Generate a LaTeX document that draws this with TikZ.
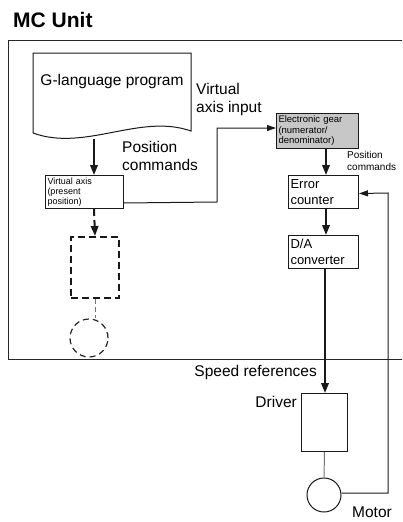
\documentclass[tikz,border=0pt]{standalone}
\usepackage{fontspec}
\setmainfont{Liberation Sans}
\usetikzlibrary{arrows.meta, positioning, calc}
\tikzset{
    block/.style={draw=black!90, line width=1pt, anchor=north west, align=left, inner sep=2pt},
    bigtext/.style={font=\fontsize{15.5}{18}\selectfont, inner sep=0pt, align=left},
    arrow/.style={-{Triangle[length=10pt,width=7.5pt]}, line width=2pt, black!90},
    dasharrow/.style={arrow, dash pattern=on 7pt off 4pt},
    thinline/.style={line width=1pt, black!90},
    thinarrow/.style={thinline, -{Triangle[length=9pt,width=6pt]}}
}

\begin{document}
\begin{tikzpicture}[x=1pt, y=-1pt]
        \clip (0,0) rectangle (402,522);
        \node [font=\fontsize{21}{24}\bfseries, anchor=west, inner sep=0pt] (title) at (13,20) {MC Unit};
        \draw [line width=1pt, black!85] (410,40) -- (8,40) -- (8,359) -- (410,359);
        % program sheet
        \draw [thinline] (33,133) -- (33,53) -- (191,53) -- (191,131)
            .. controls (140,113) and (85,152) .. (33,133);
        \node [bigtext] (prog) at (112,81) {G-language program};
        \coordinate (progout) at (94,139);
        \node [bigtext, anchor=west] (vainput) at (196,99) {Virtual\\axis input};
        \node [bigtext, anchor=west] (poscmd) at (122,156) {Position\\commands};
        % boxes
        \node [block, minimum width=78pt, minimum height=33pt, text width=74pt,
            font=\fontsize{9}{10}\selectfont] (vaxis) at (45,175) {Virtual axis\\(present\\position)};
        \node [block, fill=black!22, minimum width=82pt, minimum height=35pt, text width=78pt,
            font=\fontsize{9.5}{10.5}\selectfont] (gear) at (276,113) {Electronic gear\\(numerator/\\denominator)};
        \node [font=\fontsize{10}{12.5}\selectfont, inner sep=0pt, align=left, anchor=west] (poscmd2) at (347,161) {Position\\commands};
        \node [block, minimum width=70pt, minimum height=33pt, text width=66pt,
            font=\fontsize{13}{16}\selectfont] (errc) at (288,175) {Error\\counter};
        \node [block, minimum width=70pt, minimum height=33pt, text width=66pt,
            font=\fontsize{13}{16}\selectfont] (da) at (288,235) {D/A\\converter};
        \node [block, minimum width=46pt, minimum height=58pt] (driver) at (301,393) {};
        \node [bigtext, anchor=north east] (drvlabel) at ($(driver.north west)+(-4,3)$) {Driver};
        \node [bigtext, anchor=east] (speedref) at (317,372) {Speed references};
        \node [draw=black!90, line width=1pt, circle, minimum size=34pt, inner sep=0pt] (motor) at (324,495) {};
        \node [bigtext, anchor=west] (motlabel) at (352,512) {Motor};
        % virtual axis branch
        \node [block, dash pattern=on 7pt off 4pt, line width=2pt, minimum width=48pt, minimum height=61pt] (dbox) at (70,236) {};
        \node [draw=black!85, line width=1.2pt, dash pattern=on 6pt off 4pt, circle, minimum size=38pt, inner sep=0pt] (dcircle) at (89,338) {};
        % connectors
        \draw [arrow] (progout) -- (vaxis.north -| progout);
        \draw [thinarrow] ($(vaxis.south east)+(0,-6)$) -- (217,202) |- ([yshift=3pt]gear.west);
        \draw [arrow] (gear.south -| 326,0) -- (errc.north -| 326,0);
        \draw [arrow] (errc.south -| 326,0) -- (da.north -| 326,0);
        \draw [arrow] (da.south -| 325,0) -- (driver.north -| 325,0);
        \draw [thinline, black!55] (driver.south) -- (motor.north);
        \draw [thinarrow] ([yshift=2pt]motor.east) -| (388,193) -- ([yshift=-1.5pt]errc.east);
        \draw [dasharrow] (vaxis.south -| progout) -- (dbox.north);
        \draw [thinline, black!55, dash pattern=on 5pt off 3pt] (dbox.south) -- (dcircle.north -| dbox.south);
\end{tikzpicture}
\end{document}
